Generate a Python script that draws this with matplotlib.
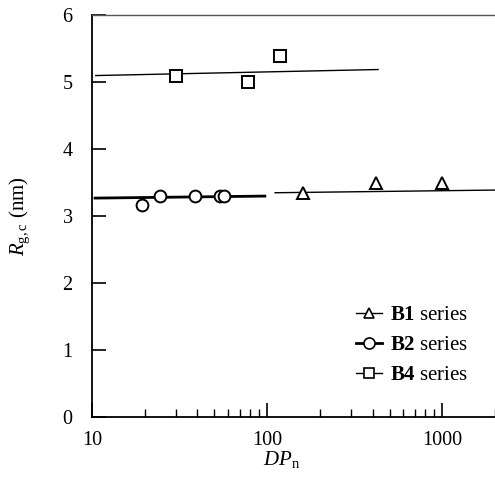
import matplotlib
matplotlib.use("Agg")
import matplotlib.pyplot as plt
from matplotlib.lines import Line2D
from matplotlib.ticker import LogLocator, FixedLocator, NullFormatter

plt.rcParams['font.family'] = ['Liberation Serif', 'DejaVu Serif']
plt.rcParams['mathtext.fontset'] = 'custom'
plt.rcParams['mathtext.rm'] = 'Liberation Serif'
plt.rcParams['mathtext.it'] = 'Liberation Serif:italic'
plt.rcParams['mathtext.bf'] = 'Liberation Serif:bold'

# measured points
b1_dp = [160, 420, 1000]
b1_rg = [3.34, 3.50, 3.50]
b2_dp = [19.2, 24.5, 38.8, 53.9, 57.0]
b2_rg = [3.17, 3.30, 3.30, 3.30, 3.30]
b4_dp = [30.2, 78, 118]
b4_rg = [5.09, 5.00, 5.39]

# fitted lines (end points)
b1_fit_dp = [111, 2000]
b1_fit_rg = [3.35, 3.39]
b2_fit_dp = [10.4, 97]
b2_fit_rg = [3.27, 3.30]
b4_fit_dp = [10.5, 430]
b4_fit_rg = [5.10, 5.19]

fig = plt.figure(figsize=(4.95, 4.93), dpi=100)
ax = fig.add_axes([0.186, 0.154, 0.814, 0.815])

ax.plot(b1_fit_dp, b1_fit_rg, color='black', lw=1.0, zorder=2)
ax.plot(b2_fit_dp, b2_fit_rg, color='black', lw=2.0, zorder=2)
ax.plot(b4_fit_dp, b4_fit_rg, color='black', lw=1.0, zorder=2)

mk = dict(linestyle='none', markerfacecolor='white', markeredgecolor='black',
          markeredgewidth=1.4, markersize=8.5, zorder=3, clip_on=False)
ax.plot(b1_dp, b1_rg, marker='^', **mk)
ax.plot(b2_dp, b2_rg, marker='o', **mk)
ax.plot(b4_dp, b4_rg, marker='s', **mk)

ax.set_xscale('log')
ax.set_xlim(10, 2000)
ax.set_ylim(0, 6)
ax.set_yticks([0, 1, 2, 3, 4, 5, 6])
ax.xaxis.set_major_locator(FixedLocator([10, 100, 1000]))
ax.xaxis.set_minor_locator(LogLocator(base=10, subs=range(2, 10)))
ax.xaxis.set_minor_formatter(NullFormatter())
ax.set_xticklabels(['10', '100', '1000'])

ax.spines['right'].set_visible(False)
ax.spines['top'].set_linewidth(1.0)
ax.spines['top'].set_color('#555555')
for s in ['left', 'bottom']:
    ax.spines[s].set_linewidth(1.3)

ax.tick_params(which='major', direction='in', length=10, width=1.2,
               labelsize=14.5, pad=10)
ax.tick_params(axis='y', which='major', pad=14)
ax.tick_params(which='minor', direction='in', length=6, width=1.0)

ax.set_xlabel(r'$DP_{\mathrm{n}}$', fontsize=15)
ax.xaxis.set_label_coords(0.47, -0.08)
ax.set_ylabel(r'$R_{\mathrm{g,c}}$ (nm)', fontsize=15)
ax.yaxis.set_label_coords(-0.148, 0.5)

handles = [
    Line2D([], [], color='black', lw=1.0, marker='^', markerfacecolor='white',
           markeredgecolor='black', markeredgewidth=1.2, markersize=7),
    Line2D([], [], color='black', lw=2.0, marker='o', markerfacecolor='white',
           markeredgecolor='black', markeredgewidth=1.2, markersize=8),
    Line2D([], [], color='black', lw=1.0, marker='s', markerfacecolor='white',
           markeredgecolor='black', markeredgewidth=1.2, markersize=7),
]
labels = [r'$\mathbf{B1}$ series', r'$\mathbf{B2}$ series', r'$\mathbf{B4}$ series']
ax.legend(handles, labels, loc='upper left', bbox_to_anchor=(0.655, 0.277),
          frameon=False, fontsize=15, handlelength=1.25, handletextpad=0.4,
          labelspacing=0.5, borderpad=0, borderaxespad=0)

fig.savefig('out.png', dpi=100)
